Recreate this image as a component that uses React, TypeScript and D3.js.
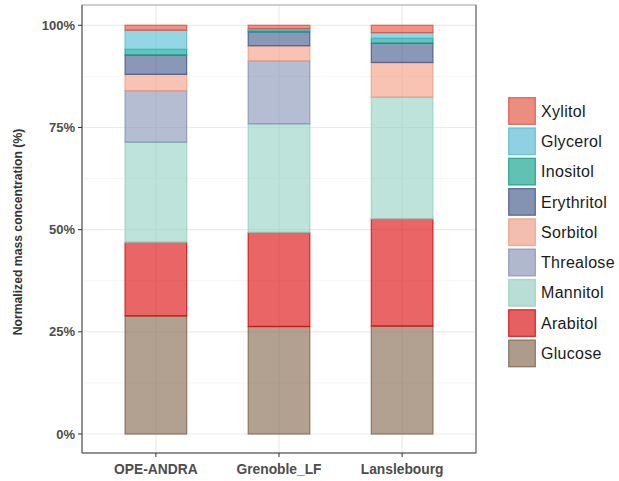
import React, { useEffect, useRef } from "react";
import * as d3 from "d3";

const sites = ["OPE-ANDRA", "Grenoble_LF", "Lanslebourg"];
const compounds = ["Glucose", "Arabitol", "Mannitol", "Threalose", "Sorbitol", "Erythritol", "Inositol", "Glycerol", "Xylitol"];
const glucose = [28.9, 26.3, 26.4];
const arabitol = [18.0, 23.0, 26.2];
const mannitol = [24.5, 26.6, 29.8];
const threalose = [12.6, 15.4, 0];
const sorbitol = [4.0, 3.7, 8.5];
const erythritol = [4.7, 3.4, 4.7];
const inositol = [1.4, 0.5, 1.2];
const glycerol = [4.7, 0.3, 1.4];
const xylitol = [1.2, 0.8, 1.8];
const yTicks = [0, 0.25, 0.5, 0.75, 1];
const yMinor = [0.125, 0.375, 0.625, 0.875];

const colors: Record<string, string> = {
  Xylitol: "#E64B35",
  Glycerol: "#4DBBD5",
  Inositol: "#00A087",
  Erythritol: "#3C5488",
  Sorbitol: "#F39B7F",
  Threalose: "#8491B4",
  Mannitol: "#91D1C2",
  Arabitol: "#DC0000",
  Glucose: "#7E6148",
};

export default function App() {
  const ref = useRef<SVGSVGElement>(null);
  useEffect(() => {
    const svg = d3.select(ref.current);
    svg.selectAll("*").remove();
    const W = 619, H = 481;
    const pL = 82, pR = 476, pT = 5, pB = 453;
    const seriesVals: Record<string, number[]> = {
      Glucose: glucose, Arabitol: arabitol, Mannitol: mannitol, Threalose: threalose,
      Sorbitol: sorbitol, Erythritol: erythritol, Inositol: inositol, Glycerol: glycerol, Xylitol: xylitol,
    };
    const rows = sites.map((s, i) => {
      const r: any = { site: s };
      const tot = compounds.reduce((a, c) => a + seriesVals[c][i], 0);
      compounds.forEach((c) => (r[c] = seriesVals[c][i] / tot));
      return r;
    });
    const stack = d3.stack<any>().keys(compounds)(rows);

    const y = d3.scaleLinear().domain([0, 1]).range([434, 25.3]);
    const x = d3.scalePoint<string>().domain(sites).range([pL, pR]).padding(0.6);
    const unit = (pR - pL) / 3.2;
    const bw = unit * 0.5;

    const font = "Liberation Sans, Arial, sans-serif";
    svg.append("rect").attr("x", pL).attr("y", pT).attr("width", pR - pL).attr("height", pB - pT).attr("fill", "white");
    const g = svg.append("g");
    yMinor.forEach((t) => g.append("line").attr("x1", pL).attr("x2", pR).attr("y1", y(t)).attr("y2", y(t)).attr("stroke", "#F2F2F2").attr("stroke-width", 0.8));
    yTicks.forEach((t) => g.append("line").attr("x1", pL).attr("x2", pR).attr("y1", y(t)).attr("y2", y(t)).attr("stroke", "#EBEBEB").attr("stroke-width", 1.2));
    sites.forEach((s) => g.append("line").attr("x1", x(s)!).attr("x2", x(s)!).attr("y1", pT).attr("y2", pB).attr("stroke", "#EBEBEB").attr("stroke-width", 1.2));

    stack.forEach((layer) => {
      const c = colors[layer.key];
      layer.forEach((d, i) => {
        const h = y(d[0]) - y(d[1]);
        if (h <= 0.01) return;
        g.append("rect")
          .attr("x", x(sites[i])! - bw / 2)
          .attr("y", y(d[1]))
          .attr("width", bw)
          .attr("height", h)
          .attr("fill", c)
          .attr("fill-opacity", 0.6)
          .attr("stroke", c)
          .attr("stroke-opacity", 0.75)
          .attr("stroke-width", 1.3);
      });
    });

    // panel border
    svg.append("rect").attr("x", pL).attr("y", pT).attr("width", pR - pL).attr("height", pB - pT)
      .attr("fill", "none").attr("stroke", "#A0A0A0").attr("stroke-width", 1);
    svg.append("line").attr("x1", pR).attr("x2", pR).attr("y1", pT).attr("y2", pB).attr("stroke", "#666").attr("stroke-width", 1);
    svg.append("line").attr("x1", pL).attr("x2", pL).attr("y1", pT).attr("y2", pB).attr("stroke", "#555").attr("stroke-width", 1);
    svg.append("line").attr("x1", pL).attr("x2", pR).attr("y1", pB).attr("y2", pB).attr("stroke", "#555").attr("stroke-width", 1);

    // y axis
    yTicks.forEach((t) => {
      svg.append("line").attr("x1", pL - 4).attr("x2", pL).attr("y1", y(t)).attr("y2", y(t)).attr("stroke", "#333");
      svg.append("text").attr("x", pL - 7).attr("y", y(t)).attr("dy", "0.35em").attr("text-anchor", "end")
        .attr("font-family", font).attr("font-weight", "bold").attr("font-size", 13).attr("fill", "#4D4D4D")
        .text(d3.format(".0%")(t));
    });
    // x axis
    sites.forEach((s) => {
      svg.append("line").attr("x1", x(s)!).attr("x2", x(s)!).attr("y1", pB).attr("y2", pB + 4).attr("stroke", "#333");
      svg.append("text").attr("x", x(s)!).attr("y", pB + 16).attr("dy", "0.35em").attr("text-anchor", "middle")
        .attr("font-family", font).attr("font-weight", "bold").attr("font-size", 13.8).attr("fill", "#4D4D4D")
        .text(s);
    });
    svg.append("text").attr("transform", `translate(22,${(pT + pB) / 2 + 3}) rotate(-90)`).attr("text-anchor", "middle")
      .attr("font-family", font).attr("font-weight", "bold").attr("font-size", 12.2).attr("fill", "#333")
      .text("Normalized mass concentration (%)");

    // legend
    const legendOrder = [...compounds].reverse();
    const lx = 508, ly = 97, step = 30.3, ks = 28;
    legendOrder.forEach((c, i) => {
      const yy = ly + i * step;
      svg.append("rect").attr("x", lx).attr("y", yy).attr("width", ks).attr("height", ks)
        .attr("fill", "#F2F2F2");
      svg.append("rect").attr("x", lx + 0.7).attr("y", yy + 0.7).attr("width", ks - 1.4).attr("height", ks - 1.4)
        .attr("fill", colors[c]).attr("fill-opacity", 0.6).attr("stroke", colors[c]).attr("stroke-opacity", 0.75).attr("stroke-width", 1.3);
      svg.append("text").attr("x", lx + ks + 5).attr("y", yy + ks / 2).attr("dy", "0.35em")
        .attr("font-family", font).attr("font-size", 16).attr("letter-spacing", 0.3).attr("fill", "#1a1a1a").text(c);
    });
    svg.attr("width", W).attr("height", H);
  }, []);
  return (
    <svg ref={ref} width={619} height={481} style={{ position: "absolute", left: 0, top: 0, background: "white" }} />
  );
}
